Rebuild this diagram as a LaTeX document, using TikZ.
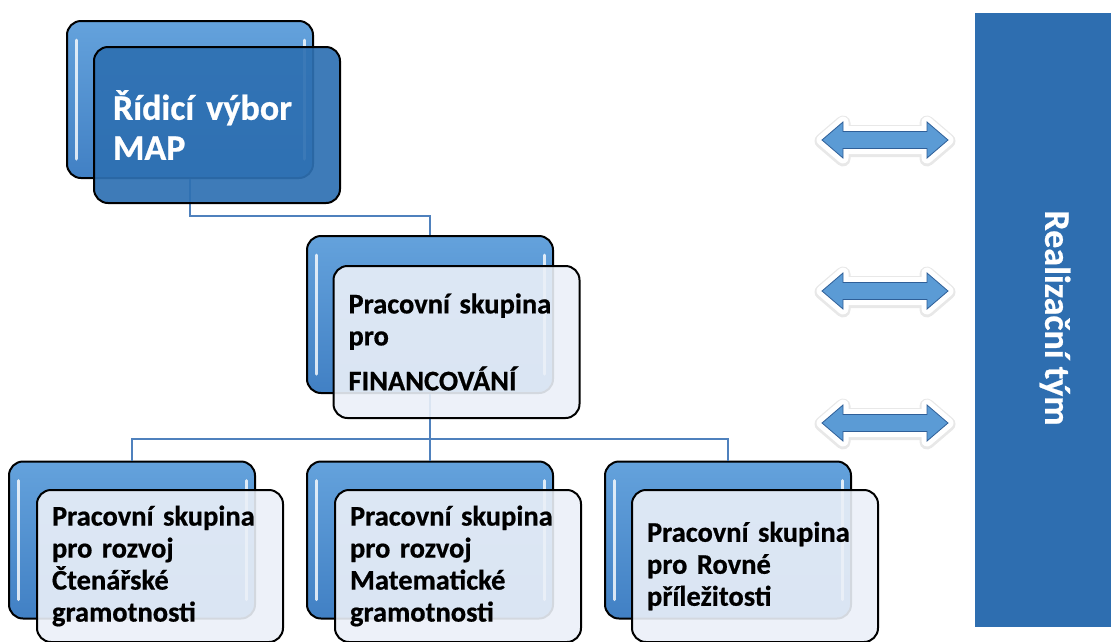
\documentclass[tikz,border=0pt]{standalone}
\usepackage{fontspec}
\setmainfont{Carlito}
\usetikzlibrary{positioning}
\usetikzlibrary{shadows}

\definecolor{glossblue}{HTML}{64A2DC}
\definecolor{deepblue}{HTML}{4180C4}
\definecolor{mapblue}{HTML}{2E70B2}
\definecolor{paleblue}{HTML}{EBF0F8}
\definecolor{teamblue}{HTML}{2E6EB0}
\definecolor{linkblue}{HTML}{4F81BD}
\definecolor{arrowblue}{HTML}{5B9BD5}
\definecolor{arrowedge}{HTML}{2F5F98}

\begin{document}
\begin{tikzpicture}[
			x=1pt, y=-1pt,
			backbox/.style={draw=black, line width=2pt, rounded corners=14pt, top color=glossblue, bottom color=deepblue, minimum width=246pt, minimum height=157pt, inner sep=0pt},
			frontbox/.style={draw=black, line width=2pt, rounded corners=14pt, fill=paleblue, fill opacity=0.9, text opacity=1, minimum height=152pt, text width=216pt, inner xsep=15pt, inner ysep=0pt, align=left, font=\fontsize{28.5}{32}\selectfont\bfseries\addfontfeatures{FakeBold=0.6}},
			mapbox/.style={frontbox, minimum height=156pt, fill=mapblue, fill opacity=0.92, text=white, inner xsep=19pt, text width=208pt, font=\fontsize{36}{40}\selectfont\bfseries\addfontfeatures{FakeBold=0.6}},
			teambox/.style={draw=white, line width=6pt, fill=teamblue, minimum width=148pt, minimum height=620pt, inner sep=0pt, drop shadow={opacity=0.3, shadow xshift=-2pt, shadow yshift=-2pt}},
			teamlabel/.style={rotate=-90, text=white, font=\fontsize{36}{40}\selectfont\bfseries\addfontfeatures{FakeBold=0.6}},
			gloss/.style={white, line width=3pt, line cap=round, opacity=0.8},
			link/.style={linkblue, line width=2pt},
			halo/.style={white, line width=11pt, line join=round},
			haloshade/.style={black!30, line width=15pt, line join=round, opacity=0.3},
			twinarrow/.style={fill=arrowblue, draw=arrowedge, line width=0.8pt, line join=miter}
			]
			
			\useasboundingbox (0,0) rectangle (1111,641);
			
			% Back boxes
			\node[backbox] (mapBk) at (190,99.5) {};
			\node[backbox] (finBk) at (430,314.5) {};
			\node[backbox] (ctenBk) at (132,540) {};
			\node[backbox] (matBk) at (430,540) {};
			\node[backbox] (rovBk) at (728,540) {};
			
			% Highlights on the back boxes
			\foreach \bk in {mapBk,finBk,ctenBk,matBk,rovBk} {
				\draw[gloss] ([xshift=10pt,yshift=-20pt]\bk.north west) -- ([xshift=10pt,yshift=20pt]\bk.south west);
				\draw[gloss] ([xshift=-10pt,yshift=-20pt]\bk.north east) -- ([xshift=-10pt,yshift=20pt]\bk.south east);
			}
			
			% Connectors
			\draw[link] (mapBk.south) -- ++(0,37) -| (finBk.north);
			\draw[link] (finBk.south) -- ++(0,45) -| (ctenBk.north);
			\draw[link] (finBk.south) -- (matBk.north);
			\draw[link] (finBk.south) -- ++(0,45) -| (rovBk.north);
			
			% Front boxes
			\node[mapbox] (map) at (217,125) {Řídicí výbor\\MAP};
			\node[frontbox] (fin) at (456.5,342) {Pracovní skupina\\pro\\[13pt]FINANCOVÁNÍ};
			\node[frontbox] (cten) at (160,566) {Pracovní skupina\\pro rozvoj\\Čtenářské\\gramotnosti};
			\node[frontbox] (mat) at (458,566) {Pracovní skupina\\pro rozvoj\\Matematické\\gramotnosti};
			\node[frontbox] (rov) at (755,566) {Pracovní skupina\\pro Rovné\\příležitosti};
			
			% Realization team
			\node[teambox] (team) at (1046,320) {};
			\node[teamlabel] (teamtext) at (1055,318) {Realizační tým};
			
			% Double arrows
			\foreach \ay in {140,291,423} {
				\coordinate (tw) at (885,\ay);
				\draw[haloshade] ([shift={(-63,1)}]tw) -- ++(21,-18) -- ++(0,9.5) -- ++(84,0) -- ++(0,-9.5) -- ++(21,18) -- ++(-21,18) -- ++(0,-9.5) -- ++(-84,0) -- ++(0,9.5) -- cycle;
				\draw[halo] ([shift={(-63,0)}]tw) -- ++(21,-18) -- ++(0,9.5) -- ++(84,0) -- ++(0,-9.5) -- ++(21,18) -- ++(-21,18) -- ++(0,-9.5) -- ++(-84,0) -- ++(0,9.5) -- cycle;
				\draw[twinarrow] ([shift={(-63,0)}]tw) -- ++(21,-18) -- ++(0,9.5) -- ++(84,0) -- ++(0,-9.5) -- ++(21,18) -- ++(-21,18) -- ++(0,-9.5) -- ++(-84,0) -- ++(0,9.5) -- cycle;
			}
			
		\end{tikzpicture}
\end{document}
